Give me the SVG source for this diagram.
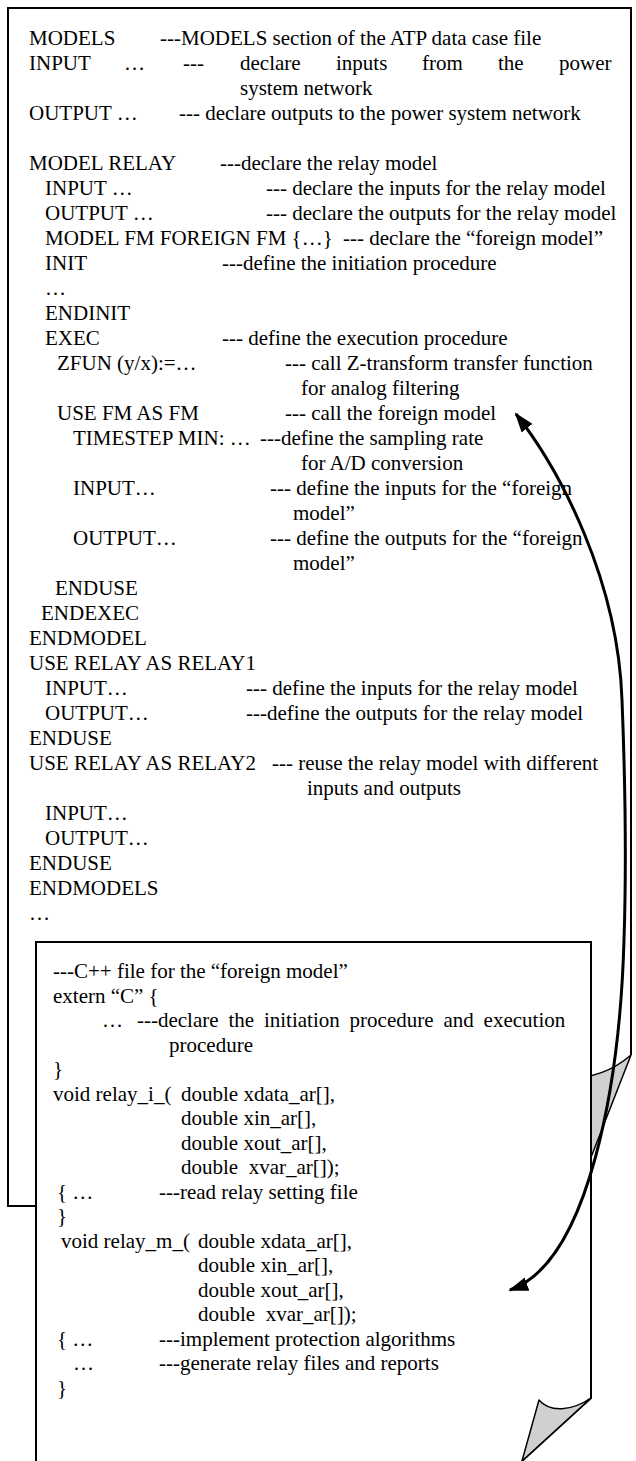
<svg xmlns="http://www.w3.org/2000/svg" width="636" height="1461" viewBox="0 0 636 1461">
<defs>
<style>
text{font-family:"Liberation Serif","Times New Roman",serif;font-size:21px;fill:#000}
.box{fill:#fff;stroke:#000;stroke-width:2}
.fold{fill:#d0d0d0;stroke:#000;stroke-width:1.5;stroke-linejoin:round}
.arrow{fill:none;stroke:#000;stroke-width:3}
</style>
<marker id="ah" markerUnits="userSpaceOnUse" markerWidth="20" markerHeight="14" viewBox="0 0 20 14" refX="18" refY="7" orient="auto-start-reverse">
<path d="M0,0 L20,7 L0,14 z" fill="#000"/>
</marker>
</defs>
<rect x="0" y="0" width="636" height="1461" fill="#fff"/>
<g id="outer-file">
<path class="box" d="M 572 1206 H 8 V 8 H 631 V 1055"/>
<path class="fold" d="M 631 1055 Q 600 1082 555 1078 L 572 1206 Z"/>
<text x="29" y="45">MODELS</text><text x="160" y="45">---MODELS section of the ATP data case file</text>
<text x="29" y="70">INPUT</text><text x="124" y="70">…</text><text x="183" y="70">---</text><text x="240" y="70">declare</text><text x="336" y="70">inputs</text><text x="422" y="70">from</text><text x="498" y="70">the</text><text x="559" y="70">power</text>
<text x="240" y="95">system network</text>
<text x="29" y="120">OUTPUT …</text><text x="179" y="120">--- declare outputs to the power system network</text>
<text x="29" y="170">MODEL RELAY</text><text x="220" y="170">---declare the relay model</text>
<text x="45" y="195">INPUT …</text><text x="266" y="195">--- declare the inputs for the relay model</text>
<text x="45" y="220">OUTPUT …</text><text x="266" y="220">--- declare the outputs for the relay model</text>
<text x="45" y="245">MODEL FM FOREIGN FM {…}</text><text x="343" y="245">--- declare the “foreign model”</text>
<text x="45" y="270">INIT</text><text x="222" y="270">---define the initiation procedure</text>
<text x="45" y="295">…</text>
<text x="45" y="320">ENDINIT</text>
<text x="45" y="345">EXEC</text><text x="222" y="345">--- define the execution procedure</text>
<text x="57" y="370">ZFUN (y/x):=…</text><text x="285" y="370">--- call Z-transform transfer function</text>
<text x="301" y="395">for analog filtering</text>
<text x="57" y="420">USE FM AS FM</text><text x="285" y="420">--- call the foreign model</text>
<text x="73" y="445">TIMESTEP MIN: …</text><text x="260" y="445">---define the sampling rate</text>
<text x="301" y="470">for A/D conversion</text>
<text x="73" y="495">INPUT…</text><text x="270" y="495">--- define the inputs for the “foreign</text>
<text x="293" y="520">model”</text>
<text x="73" y="545">OUTPUT…</text><text x="270" y="545">--- define the outputs for the “foreign</text>
<text x="293" y="570">model”</text>
<text x="55" y="595">ENDUSE</text>
<text x="41" y="620">ENDEXEC</text>
<text x="29" y="645">ENDMODEL</text>
<text x="29" y="670">USE RELAY AS RELAY1</text>
<text x="45" y="695">INPUT…</text><text x="246" y="695">--- define the inputs for the relay model</text>
<text x="45" y="720">OUTPUT…</text><text x="246" y="720">---define the outputs for the relay model</text>
<text x="29" y="745">ENDUSE</text>
<text x="29" y="770">USE RELAY AS RELAY2</text><text x="272" y="770">--- reuse the relay model with different</text>
<text x="307" y="795">inputs and outputs</text>
<text x="45" y="820">INPUT…</text>
<text x="45" y="845">OUTPUT…</text>
<text x="29" y="870">ENDUSE</text>
<text x="29" y="895">ENDMODELS</text>
<text x="29" y="920">…</text>
</g>
<g id="inner-file">
<path class="box" d="M 522 1461 L 591 1398 V 942 H 36 V 1462"/>
<path class="fold" d="M 591 1398 C 572 1411 550 1413 539 1400 L 522 1461 Z"/>
<text x="53" y="978">---C++ file for the “foreign model”</text>
<text x="53" y="1002.5">extern “C” {</text>
<text x="102" y="1027">…</text><text x="137" y="1027" word-spacing="4.6">---declare the initiation procedure and execution</text>
<text x="169" y="1051.5">procedure</text>
<text x="53" y="1076">}</text>
<text x="53" y="1100.5">void relay_i_(</text><text x="181" y="1100.5">double xdata_ar[],</text>
<text x="181" y="1125">double xin_ar[],</text>
<text x="181" y="1149.5">double xout_ar[],</text>
<text x="181" y="1174" xml:space="preserve">double  xvar_ar[]);</text>
<text x="57" y="1198.5">{ …</text><text x="159" y="1198.5">---read relay setting file</text>
<text x="57" y="1223">}</text>
<text x="61" y="1247.5">void relay_m_(</text><text x="198" y="1247.5">double xdata_ar[],</text>
<text x="198" y="1272">double xin_ar[],</text>
<text x="198" y="1296.5">double xout_ar[],</text>
<text x="198" y="1321" xml:space="preserve">double  xvar_ar[]);</text>
<text x="57" y="1345.5">{ …</text><text x="159" y="1345.5">---implement protection algorithms</text>
<text x="73" y="1370">…</text><text x="159" y="1370">---generate relay files and reports</text>
<text x="57" y="1394.5">}</text>
</g>
<g id="connectors">
<path class="arrow" marker-start="url(#ah)" marker-end="url(#ah)" d="M 516 414 C 560 470 618 580 622 700 C 626 800 626 880 624 940 C 620 1080 590 1262 510 1290"/>
</g>
</svg>
